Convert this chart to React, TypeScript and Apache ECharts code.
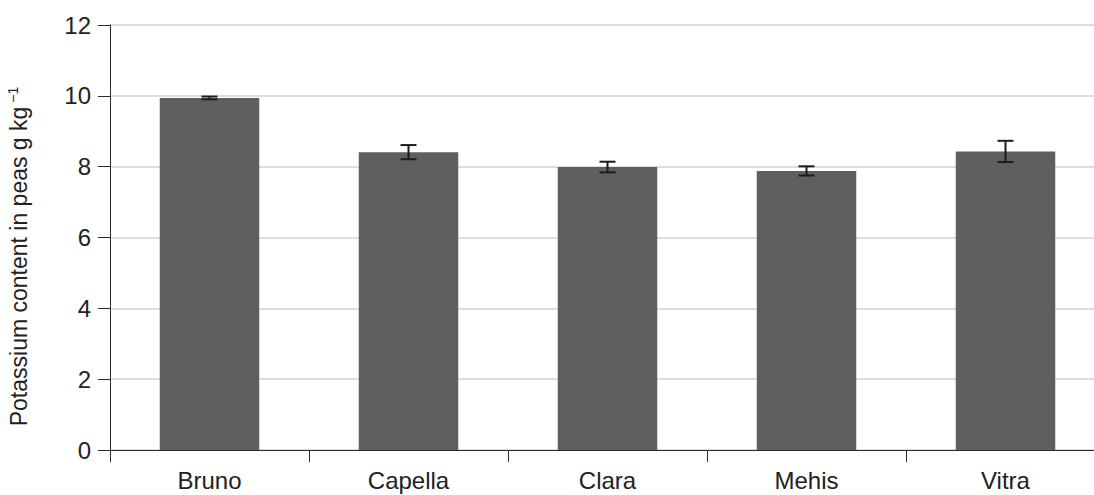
import React, { useEffect, useRef } from "react";
import * as echarts from "echarts";

const categories = ["Bruno", "Capella", "Clara", "Mehis", "Vitra"];
const means = [9.94, 8.41, 7.99, 7.88, 8.43];
const errors = [0.04, 0.2, 0.15, 0.13, 0.3];
const yMin = 0;
const yMax = 12;
const yInterval = 2;

const FONT = "'Liberation Sans', Arial, sans-serif";

export default function App() {
  const ref = useRef<HTMLDivElement>(null);

  useEffect(() => {
    document.body.style.margin = "0";
    const chart = echarts.init(ref.current!, null, { renderer: "svg" });
    const errData = categories.map((_, i) => [i, means[i] - errors[i], means[i] + errors[i]]);
    chart.setOption({
      animation: false,
      backgroundColor: "#ffffff",
      grid: {
        left: 110,
        top: 25,
        width: 995,
        height: 425,
        containLabel: false,
        outerBoundsMode: "none",
      },
      xAxis: {
        type: "category",
        data: categories,
        axisLine: { lineStyle: { color: "#2b2b2b", width: 1 } },
        axisTick: { show: true, length: 12, lineStyle: { color: "#2b2b2b", width: 1 } },
        axisLabel: { color: "#222", fontSize: 24, fontFamily: FONT, margin: 18 },
        splitLine: { show: false },
      },
      yAxis: {
        type: "value",
        min: yMin,
        max: yMax,
        interval: yInterval,
        name: "Potassium content in peas g kg{sup|−1}",
        nameLocation: "middle",
        nameGap: 78,
        nameRotate: 90,
        nameTextStyle: {
          color: "#222",
          fontSize: 23,
          fontFamily: FONT,
          padding: [0, 38, 0, 0],
          rich: {
            sup: { fontSize: 14, fontFamily: FONT, color: "#222", verticalAlign: "top", padding: [0, 0, 12, 4] },
          },
        },
        axisLine: { show: true, lineStyle: { color: "#2b2b2b", width: 1 } },
        axisTick: { show: true, length: 12, lineStyle: { color: "#2b2b2b", width: 1 } },
        axisLabel: { color: "#222", fontSize: 24, fontFamily: FONT, margin: 19 },
        splitLine: { show: true, lineStyle: { color: "#d2d2d2", width: 1.5 } },
      },
      series: [
        {
          type: "bar",
          data: means,
          barWidth: "50%",
          itemStyle: { color: "#5f5f61" },
          z: 2,
        },
        {
          type: "custom",
          data: errData,
          z: 5,
          renderItem: (params: any, api: any) => {
            const idx = api.value(0);
            const lo = api.coord([idx, api.value(1)]);
            const hi = api.coord([idx, api.value(2)]);
            const half = 8;
            const style = { stroke: "#1c1c1c", lineWidth: 2 };
            return {
              type: "group",
              children: [
                { type: "line", shape: { x1: hi[0], y1: hi[1], x2: lo[0], y2: lo[1] }, style },
                { type: "line", shape: { x1: hi[0] - half, y1: hi[1], x2: hi[0] + half, y2: hi[1] }, style },
                { type: "line", shape: { x1: lo[0] - half, y1: lo[1], x2: lo[0] + half, y2: lo[1] }, style },
              ],
            };
          },
        },
      ],
    });
    return () => chart.dispose();
  }, []);

  return (
    <div
      ref={ref}
      style={{ position: "absolute", left: 0, top: 0, width: 1094, height: 495 }}
    />
  );
}
